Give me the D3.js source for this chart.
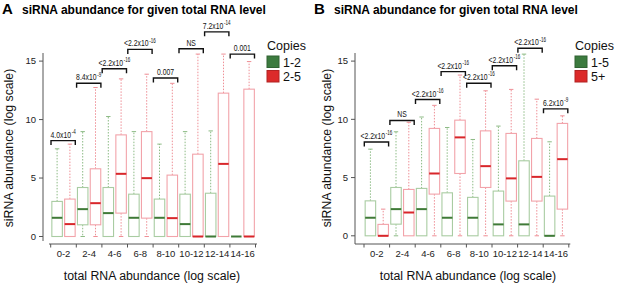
<!DOCTYPE html>
<html lang="en">
<head>
<meta charset="UTF-8">
<title>siRNA abundance for given total RNA level</title>
<style>
    body { margin: 0; background: #fff; }
    svg { display: block; font-family: "Liberation Sans", Arial, sans-serif; }
    .title { font-weight: bold; font-size: 12px; }
    .letter { font-weight: bold; font-size: 15px; }
    .tick { font-size: 9.5px; fill: #222; }
    .axt { font-size: 12.3px; fill: #111; }
    .leg { font-size: 12.5px; fill: #111; }
    .pval { font-size: 9.5px; fill: #111; }
</style>
</head>
<body>
<svg width="617" height="284"></svg>
<script src="https://d3js.org/d3.v7.min.js"></script>
<script>
    const categories = ["0-2", "2-4", "4-6", "6-8", "8-10", "10-12", "12-14", "14-16"];
    const yTicks = [0, 5, 10, 15];

    // each box: [lower whisker, q1, median, q3, upper whisker]
    const aGreen = [
        [0, 0, 1.6, 3.0, 7.5], [0, 1.0, 2.34, 4.19, 8.97], [0, 0, 2.0, 4.19, 10.26], [0, 0, 1.6, 3.62, 8.97],
        [0, 0, 1.6, 3.2, 7.9], [0, 0, 1.06, 3.62, 8.97], [0, 0, 0, 3.7, 9.03], [0, 0, 0, 0, 0]
    ];
    const aRed = [
        [0, 0, 1.06, 3.2, 7.9], [0, 1.0, 2.85, 5.79, 12.74], [0, 2.0, 5.36, 8.69, 13.48], [0, 1.57, 4.99, 8.97, 13.88],
        [0, 0, 1.57, 5.25, 13.1], [0, 0, 0, 7.04, 15.6], [0, 0, 6.21, 12.26, 15.6], [0, 0, 0, 12.6, 14.96]
    ];
    const aPval = [["4.0x10", "-4"], ["8.4x10", "-9"], ["<2.2x10", "-16"], ["<2.2x10", "-16"],
                   ["0.007", ""], ["NS", ""], ["7.2x10", "-14"], ["0.001", ""]];
    const aLevel = [8.2, 13.1, 14.35, 16.0, 13.55, 16.05, 17.5, 15.6];
    const aSeries = ["1-2", "2-5"];

    const bGreen = [
        [0, 0, 1.55, 3.0, 7.44], [0, 1.0, 2.29, 4.15, 8.93], [0, 0, 2.29, 4.07, 10.2], [0, 0, 1.55, 3.69, 9.3],
        [0, 0, 1.55, 3.3, 8.27], [0, 0, 0.98, 3.84, 9.42], [0, 0, 0.98, 6.44, 15.6], [0, 0, 0, 3.41, 8.07]
    ];
    const bRed = [
        [0, 0, 0, 0.98, 2.29], [0, 0, 2.0, 3.98, 9.75], [0, 3.58, 5.35, 9.22, 11.2], [0, 5.35, 8.45, 9.93, 13.8],
        [0, 4.15, 5.98, 9.01, 12.45], [0, 2.98, 4.93, 8.79, 12.57], [0, 2.98, 5.06, 8.36, 11.73], [0, 2.29, 6.58, 9.65, 10.3]
    ];
    const bPval = [["<2.2x10", "-16"], ["NS", ""], ["<2.2x10", "-16"], ["<2.2x10", "-16"],
                   ["<2.2x10", "-16"], ["<2.2x10", "-16"], ["<2.2x10", "-16"], ["6.2x10", "-9"]];
    const bLevel = [8.05, 9.9, 11.7, 14.1, 13.1, 14.6, 16.1, 10.9];
    const bSeries = ["1-5", "5+"];

    const svg = d3.select("svg");
    const boxStroke = ["#a9cca2", "#f2a3aa"];
    const whiskStroke = ["#8dbb85", "#ee8f96"];
    const medStroke = ["#3f7a37", "#d8262a"];
    const legFill = ["#3c7b3f", "#dc2a2a"];

    function drawPanel(o) {
        const g = svg.append("g");
        const x = d3.scaleBand().domain(categories).range([o.x0, o.x0 + 25.6 * categories.length]);
        const sub = d3.scaleBand().domain([0, 1]).range([0, x.bandwidth()]).paddingInner(0.18).paddingOuter(0.09);
        const y = d3.scaleLinear().domain([0, 15]).range([o.yZero, 61.1]);
        const bw = sub.bandwidth();

        g.append("text").attr("class", "letter").attr("x", o.tx).attr("y", 14).text(o.letter);
        g.append("text").attr("class", "title").attr("x", o.tx + 20).attr("y", 13.5)
            .text("siRNA abundance for given total RNA level");

        // y axis
        g.append("line").attr("x1", o.ax).attr("x2", o.ax).attr("y1", 53).attr("y2", o.axEnd)
            .attr("stroke", "#555").attr("stroke-width", 1);
        yTicks.forEach(t => {
            g.append("line").attr("x1", o.ax - 4).attr("x2", o.ax).attr("y1", y(t)).attr("y2", y(t))
                .attr("stroke", "#555");
            g.append("text").attr("class", "tick").attr("x", o.ax - 7).attr("y", y(t) + 3.3)
                .attr("text-anchor", "end").text(t);
        });
        // x axis
        const [r0, r1] = x.range();
        g.append("line").attr("x1", o.xaStart).attr("x2", r1 + 1.5).attr("y1", 244).attr("y2", 244)
            .attr("stroke", "#555");
        categories.concat([null]).forEach((c, i) => {
            const xx = r0 + i * x.step();
            g.append("line").attr("x1", xx).attr("x2", xx).attr("y1", 244).attr("y2", 247.5).attr("stroke", "#555");
        });
        categories.forEach(c => {
            g.append("text").attr("class", "tick").attr("x", x(c) + x.bandwidth() / 2).attr("y", 256.8)
                .attr("text-anchor", "middle").text(c);
        });
        g.append("text").attr("class", "axt").attr("x", o.xlab).attr("y", 280).attr("text-anchor", "middle")
            .text("total RNA abundance (log scale)");
        g.append("text").attr("class", "axt").attr("text-anchor", "middle")
            .attr("transform", `translate(${o.ylab},148) rotate(-90)`)
            .text("siRNA abundance (log scale)");

        // boxes
        [o.green, o.red].forEach((series, s) => {
            series.forEach((d, i) => {
                const [lo, q1, med, q3, hi] = d;
                const left = x(categories[i]) + sub(s);
                const cx = left + bw / 2;
                const bg = g.append("g");
                if (hi > q3) {
                    bg.append("line").attr("x1", cx).attr("x2", cx).attr("y1", y(q3)).attr("y2", y(hi))
                        .attr("stroke", whiskStroke[s]).attr("stroke-dasharray", "1.5,1.5");
                    bg.append("line").attr("x1", cx - 2.2).attr("x2", cx + 2.2).attr("y1", y(hi)).attr("y2", y(hi))
                        .attr("stroke", whiskStroke[s]);
                }
                if (q1 > lo) {
                    bg.append("line").attr("x1", cx).attr("x2", cx).attr("y1", y(q1)).attr("y2", y(lo))
                        .attr("stroke", whiskStroke[s]).attr("stroke-dasharray", "1.5,1.5");
                    bg.append("line").attr("x1", cx - 2.2).attr("x2", cx + 2.2).attr("y1", y(lo)).attr("y2", y(lo))
                        .attr("stroke", whiskStroke[s]);
                }
                if (q3 > q1) {
                    bg.append("rect").attr("x", left).attr("y", y(q3)).attr("width", bw)
                        .attr("height", y(q1) - y(q3)).attr("fill", "#fff")
                        .attr("stroke", boxStroke[s]).attr("stroke-width", 1.1);
                }
                bg.append("line").attr("x1", left).attr("x2", left + bw).attr("y1", y(med)).attr("y2", y(med))
                    .attr("stroke", medStroke[s]).attr("stroke-width", 2);
            });
        });

        // p-value brackets
        categories.forEach((c, i) => {
            const x1 = x(c) + 0.3, x2 = x(c) + x.bandwidth() - 1;
            const yy = y(o.level[i]);
            g.append("path").attr("d", `M${x1},${yy + 4.5}V${yy}H${x2}V${yy + 4.5}`)
                .attr("fill", "none").attr("stroke", "#111").attr("stroke-width", 1.4);
            const t = g.append("text").attr("class", "pval").attr("text-anchor", "middle")
                .attr("transform", `translate(${(x1 + x2) / 2},${yy - 3}) scale(0.72,1)`);
            t.append("tspan").text(o.pval[i][0]);
            if (o.pval[i][1]) {
                t.append("tspan").attr("dy", -3.8).attr("dx", 1).attr("font-size", "6.3px").text(o.pval[i][1]);
            }
        });

        // legend
        g.append("text").attr("class", "leg").attr("x", o.lx).attr("y", 50).text("Copies");
        o.series.forEach((n, s) => {
            g.append("rect").attr("x", o.lx).attr("y", 56 + s * 14.5).attr("width", 12).attr("height", 11.5)
                .attr("fill", legFill[s]).attr("stroke", d3.color(legFill[s]).darker(0.6));
            g.append("text").attr("class", "leg").attr("x", o.lx + 16).attr("y", 66.5 + s * 14.5).text(n);
        });
    }

    drawPanel({ letter: "A", tx: 2, x0: 50.7, yZero: 236.5, ax: 43, axEnd: 241, xaStart: 49,
        xlab: 152, ylab: 13, lx: 267, green: aGreen, red: aRed, pval: aPval, level: aLevel, series: aSeries });
    drawPanel({ letter: "B", tx: 314, x0: 364, yZero: 235.8, ax: 355, axEnd: 244, xaStart: 355,
        xlab: 468, ylab: 331, lx: 575, green: bGreen, red: bRed, pval: bPval, level: bLevel, series: bSeries });
</script>
</body>
</html>
